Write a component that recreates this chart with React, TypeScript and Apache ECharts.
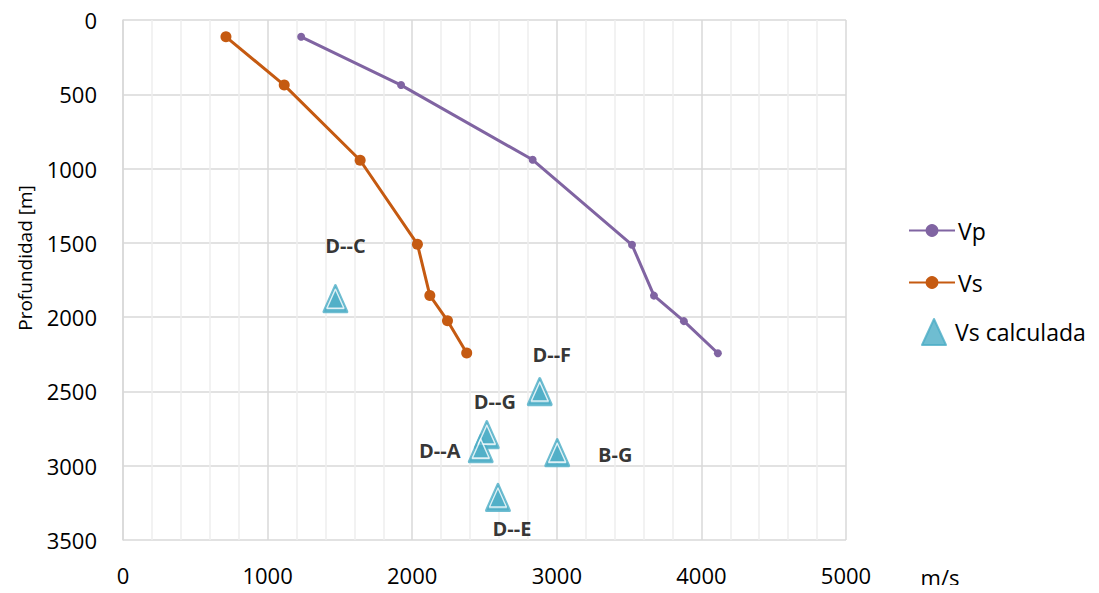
import React, { useEffect, useRef } from "react";
import * as echarts from "echarts";

const depthVp = [113, 438, 941, 1513, 1855, 2027, 2243];
const vp = [1232, 1923, 2833, 3520, 3672, 3879, 4114];
const depthVs = [113, 438, 944, 1509, 1854, 2024, 2242];
const vs = [712, 1115, 1640, 2036, 2122, 2244, 2377];

const calcNames = ["D--C", "D--F", "D--G", "D--A", "B-G", "D--E"];
const calcVs = [1469, 2882, 2516, 2474, 3003, 2593];
const calcDepth = [1876, 2501, 2791, 2885, 2912, 3214];

const xTicks = [0, 1000, 2000, 3000, 4000, 5000];
const yTicks = [0, 500, 1000, 1500, 2000, 2500, 3000, 3500];

// label placement (style only)
const labelOffsets: Record<string, number[]> = {
  "D--C": [10, -53],
  "D--F": [12, -37],
  "D--G": [8, -33],
  "D--A": [-41, 2],
  "B-G": [58, 2],
  "D--E": [14, 31],
};

const FONT = "'Open Sans', 'Noto Sans', sans-serif";
const TEAL = "#4bacc6";

export default function App() {
  const ref = useRef<HTMLDivElement>(null);
  useEffect(() => {
    if (!ref.current) return;
    const chart = echarts.init(ref.current, undefined, { renderer: "svg" });
    const vpData = vp.map((v, i) => [v, depthVp[i]]);
    const vsData = vs.map((v, i) => [v, depthVs[i]]);
    const calcData = calcVs.map((v, i) => ({
      name: calcNames[i],
      value: [v, calcDepth[i]],
      label: { offset: labelOffsets[calcNames[i]] },
    }));
    const calcInner = calcVs.map((v, i) => [v, calcDepth[i]]);
    chart.setOption({
      animation: false,
      textStyle: { fontFamily: FONT },
      grid: { left: 123, top: 20, right: 253, bottom: 53, containLabel: false },
      xAxis: {
        type: "value",
        min: xTicks[0],
        max: xTicks[xTicks.length - 1],
        interval: 1000,
        axisLine: { show: false },
        axisTick: { show: false },
        axisLabel: { fontSize: 22, color: "#000", margin: 24, fontFamily: FONT, formatter: (v: number) => String(v) },
        splitLine: { show: true, lineStyle: { color: "#d9d9d9", width: 1.5 } },
        minorTick: { show: false, splitNumber: 5 },
        minorSplitLine: { show: true, lineStyle: { color: "#eeeeee", width: 1.5 } },
      },
      yAxis: {
        type: "value",
        inverse: true,
        min: yTicks[0],
        max: yTicks[yTicks.length - 1],
        interval: 500,
        axisLine: { show: true, lineStyle: { color: "#d9d9d9", width: 1.5 } },
        axisTick: { show: false },
        axisLabel: { fontSize: 22, color: "#000", margin: 26, fontFamily: FONT, formatter: (v: number) => String(v) },
        splitLine: { show: true, lineStyle: { color: "#d9d9d9", width: 1.5 } },
      },
      legend: [
        {
          orient: "vertical",
          left: 903,
          top: 214,
          itemGap: 29,
          itemWidth: 46,
          itemHeight: 16,
          textStyle: { fontSize: 23, color: "#000", fontFamily: FONT, padding: [0, 0, 0, -2] },
          data: [{ name: "Vp" }, { name: "Vs" }],
        },
        {
          orient: "vertical",
          left: 916,
          top: 313,
          itemWidth: 24,
          itemHeight: 26,
          textStyle: { fontSize: 23, color: "#000", fontFamily: FONT, padding: [0, 0, 0, 4] },
          data: [
            { name: "Vs calculada", icon: "triangle", itemStyle: { color: TEAL, borderColor: TEAL, borderWidth: 2 } },
          ],
        },
      ],
      graphic: [
        {
          type: "text",
          x: 25,
          y: 258,
          rotation: Math.PI / 2,
          style: {
            text: "Profundidad [m]",
            fontSize: 19,
            fontFamily: FONT,
            fill: "#000",
            align: "center",
            verticalAlign: "middle",
          },
        },
        {
          type: "text",
          x: 940,
          y: 577,
          style: {
            text: "m/s",
            fontSize: 22,
            fontFamily: FONT,
            fill: "#000",
            align: "center",
            verticalAlign: "middle",
          },
        },
      ],
      series: [
        {
          name: "Vp",
          type: "line",
          data: vpData,
          symbol: "circle",
          symbolSize: 8,
          color: "#8064a2",
          lineStyle: { width: 3, color: "#8064a2" },
          itemStyle: { color: "#8064a2" },
          z: 3,
        },
        {
          name: "Vs",
          type: "line",
          data: vsData,
          symbol: "circle",
          symbolSize: 11,
          color: "#c55a11",
          lineStyle: { width: 3, color: "#c55a11" },
          itemStyle: { color: "#c55a11" },
          z: 3,
        },
        {
          name: "Vs calculada",
          type: "scatter",
          data: calcData,
          symbol: "triangle",
          symbolSize: [23, 26],
          itemStyle: { color: TEAL, borderColor: TEAL, borderWidth: 3, borderJoin: "round" },
          label: {
            show: true,
            position: "inside",
            formatter: "{b}",
            fontSize: 20,
            fontWeight: "bold",
            color: "#000",
            fontFamily: FONT,
          },
          z: 4,
        },
        {
          name: "calc-inner",
          type: "scatter",
          data: calcInner,
          symbol: "triangle",
          symbolSize: [17, 19],
          itemStyle: { color: TEAL, borderColor: "#fff", borderWidth: 1.5, borderJoin: "round" },
          silent: true,
          z: 5,
        },
      ],
    });
    return () => chart.dispose();
  }, []);
  return <div ref={ref} style={{ width: 1099, height: 593, margin: -8 }} />;
}
